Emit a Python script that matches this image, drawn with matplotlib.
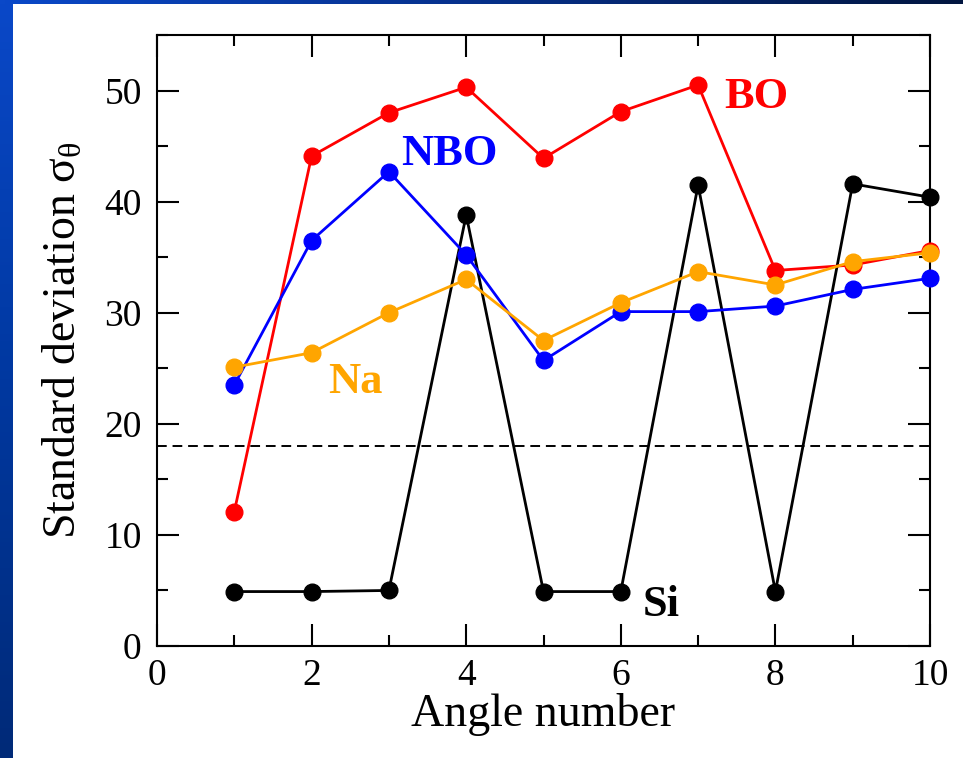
import numpy as np
import matplotlib
matplotlib.use("Agg")
import matplotlib.pyplot as plt
from matplotlib.ticker import MultipleLocator

# Standard deviation of bond angles per angle number, by species
angle_number = [1, 2, 3, 4, 5, 6, 7, 8, 9, 10]
sigma_bo = [12.1, 44.1, 48.0, 50.3, 43.9, 48.1, 50.5, 33.8, 34.3, 35.6]
sigma_nbo = [23.5, 36.5, 42.7, 35.2, 25.7, 30.1, 30.1, 30.6, 32.1, 33.1]
sigma_na = [25.1, 26.4, 30.0, 33.0, 27.5, 30.9, 33.7, 32.5, 34.6, 35.4]
sigma_si = [4.9, 4.9, 5.0, 38.8, 4.9, 4.9, 41.5, 4.9, 41.6, 40.4]
threshold = 18.0

plt.rcParams["font.family"] = ["Liberation Serif", "DejaVu Serif"]
plt.rcParams["mathtext.fontset"] = "custom"
plt.rcParams["mathtext.rm"] = "Liberation Serif"
plt.rcParams["mathtext.it"] = "Liberation Serif:italic"

W, H = 963, 758
fig = plt.figure(figsize=(W / 100, H / 100), dpi=100)
fig.patch.set_facecolor("white")

# slide frame: blue gradient strips on the left and top edges
bg = fig.add_axes([0, 0, 1, 1], zorder=-10)
bg.set_axis_off()
bg.set_xlim(0, W)
bg.set_ylim(H, 0)
left_grad = np.linspace(0, 1, 200)[:, None]
left_cmap = matplotlib.colors.LinearSegmentedColormap.from_list(
    "lb", ["#0a48c8", "#0038a0", "#002a78"])
bg.imshow(left_grad, cmap=left_cmap, extent=[0, 13, H, 0], aspect="auto")
top_grad = np.linspace(0, 1, 200)[None, :]
top_cmap = matplotlib.colors.LinearSegmentedColormap.from_list(
    "tb", ["#0a48c8", "#06308a", "#021640"])
bg.imshow(top_grad, cmap=top_cmap, extent=[0, W, 4, 0], aspect="auto")

ax = fig.add_axes([157 / W, 1 - 646 / H, (930 - 157) / W, (646 - 35) / H])

common = dict(marker="o", markersize=12, linewidth=2.0, clip_on=False)
ax.plot(angle_number, sigma_si, color="black", zorder=3, **common)
ax.plot(angle_number, sigma_bo, color="#ff0000", zorder=4, **common)
ax.plot(angle_number, sigma_nbo, color="#0000ff", zorder=5, **common)
ax.plot(angle_number, sigma_na, color="#ffa500", zorder=6, **common)
ax.axhline(threshold, color="black", linestyle=(0, (5, 3)), linewidth=1.4, zorder=2)

label_kw = dict(fontsize=32, fontweight="bold", va="center", ha="left")
ax.text(7.34, 49.4, "BO", color="#ff0000", **label_kw)
ax.text(3.16, 44.3, "NBO", color="#0000ff", **label_kw)
ax.text(2.22, 23.8, "Na", color="#ffa500", **label_kw)
ax.text(6.28, 3.7, "Si", color="black", **label_kw)

ax.set_xlim(0, 10)
ax.set_ylim(0, 55)
ax.xaxis.set_major_locator(MultipleLocator(2))
ax.xaxis.set_minor_locator(MultipleLocator(1))
ax.yaxis.set_major_locator(MultipleLocator(10))
ax.yaxis.set_minor_locator(MultipleLocator(5))
ax.tick_params(which="both", direction="in", top=True, right=True,
               width=1.5, colors="black")
ax.tick_params(which="major", length=16, labelsize=27)
ax.tick_params(which="minor", length=8)
ax.tick_params(axis="x", which="major", pad=9)
ax.tick_params(axis="y", which="major", pad=11)
for s in ax.spines.values():
    s.set_linewidth(1.5)

ax.set_xlabel("Angle number", fontsize=33, labelpad=0)
ax.set_ylabel(r"Standard deviation $\mathrm{\sigma}_{\mathrm{\theta}}$", fontsize=33)
ax.yaxis.set_label_coords(-0.092, 0.5)

fig.savefig("out.png", dpi=100)
